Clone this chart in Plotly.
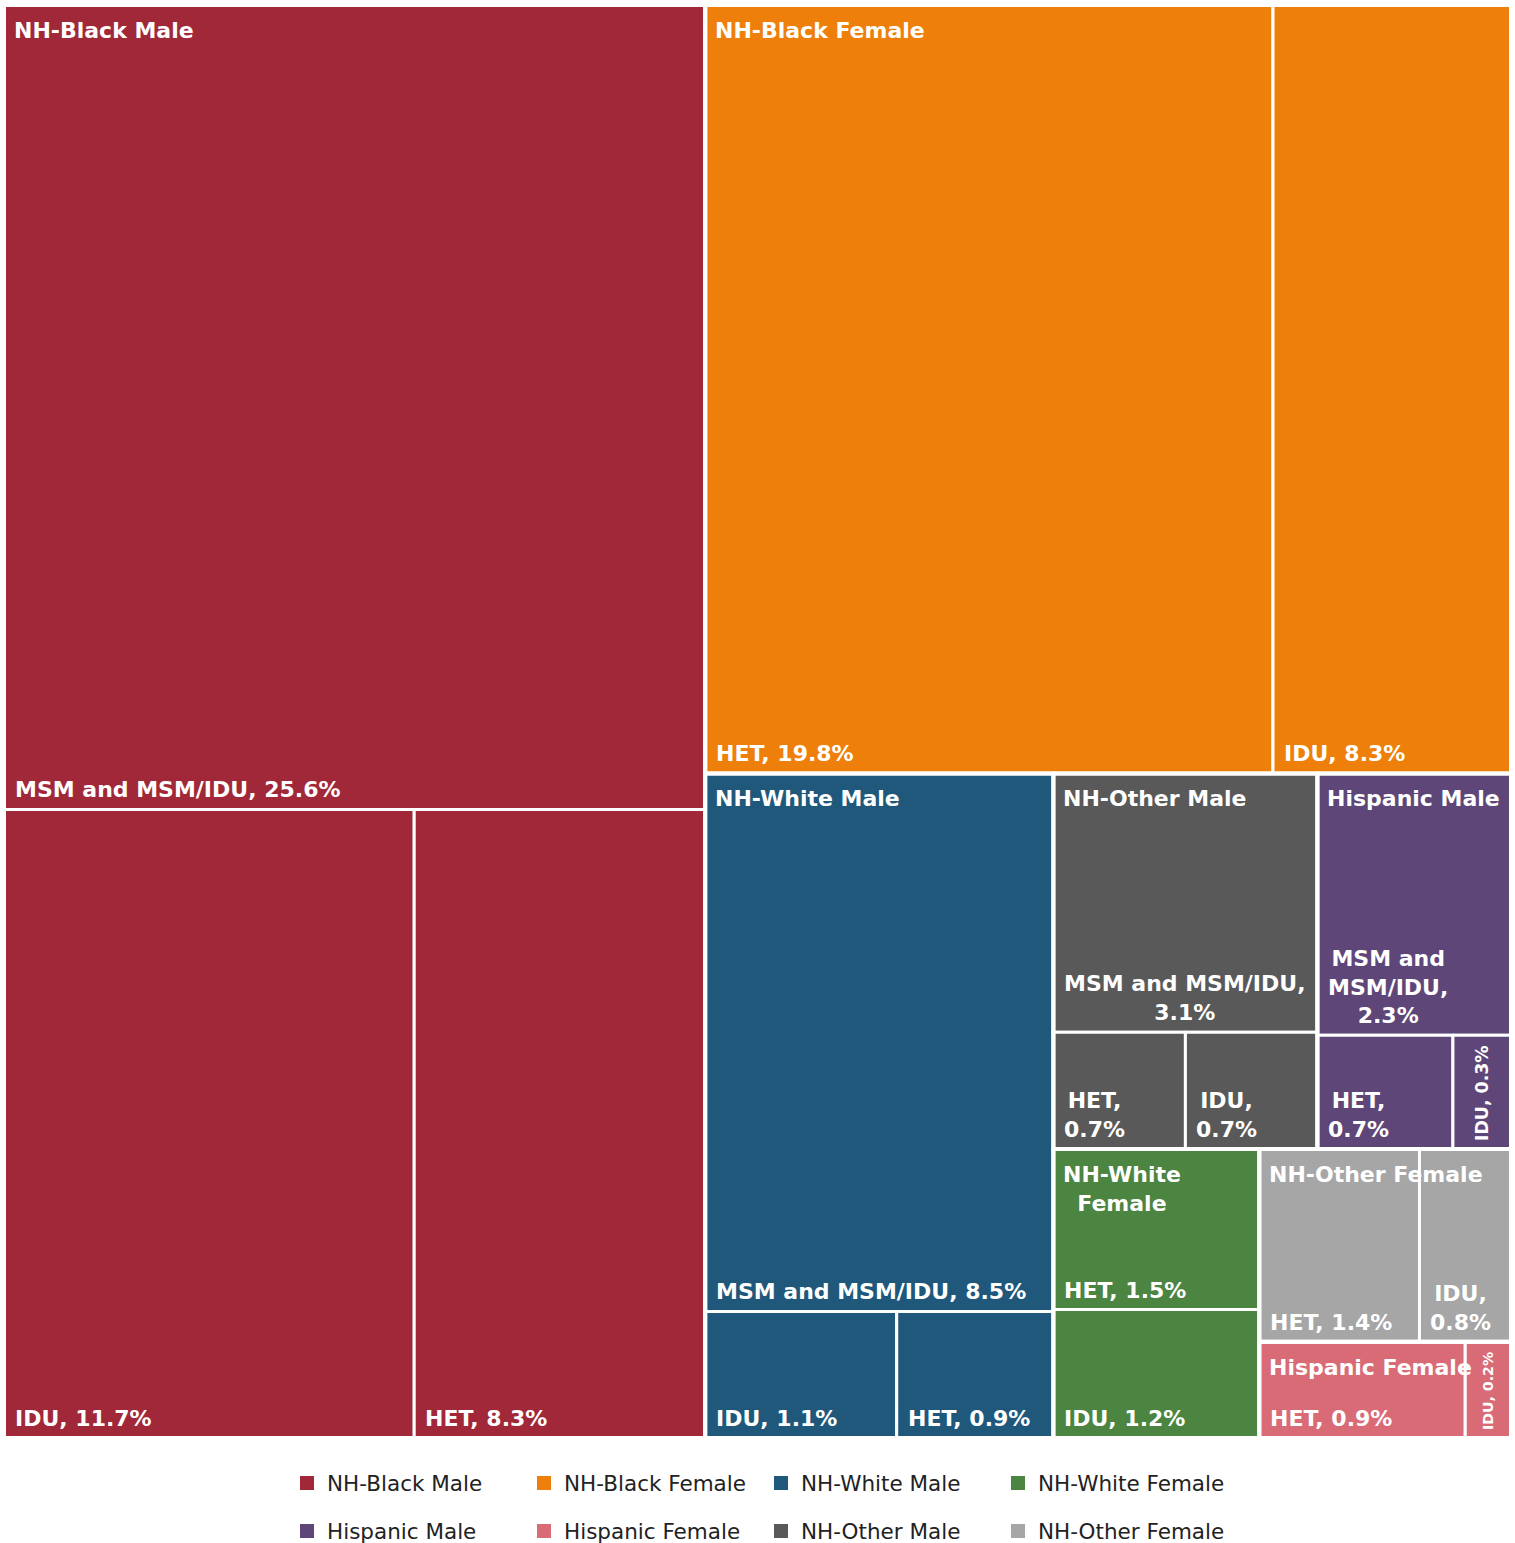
import plotly.graph_objects as go

# ---------------- data ----------------
groups = ["NH-Black Male", "NH-Black Female", "NH-White Male", "NH-Other Male",
          "Hispanic Male", "NH-White Female", "NH-Other Female", "Hispanic Female"]
group_colors = ["#A12838", "#EF7F0B", "#1F587B", "#595959",
                "#5E4778", "#4C8441", "#A6A6A6", "#D96B76"]

leaf_group = ["NH-Black Male", "NH-Black Male", "NH-Black Male",
              "NH-Black Female", "NH-Black Female",
              "NH-White Male", "NH-White Male", "NH-White Male",
              "NH-Other Male", "NH-Other Male", "NH-Other Male",
              "Hispanic Male", "Hispanic Male", "Hispanic Male",
              "NH-White Female", "NH-White Female",
              "NH-Other Female", "NH-Other Female",
              "Hispanic Female", "Hispanic Female"]
leaf_names = ["MSM and MSM/IDU", "IDU", "HET",
              "HET", "IDU",
              "MSM and MSM/IDU", "IDU", "HET",
              "MSM and MSM/IDU", "HET", "IDU",
              "MSM and MSM/IDU", "HET", "IDU",
              "HET", "IDU",
              "HET", "IDU",
              "HET", "IDU"]
leaf_values = [25.6, 11.7, 8.3,
               19.8, 8.3,
               8.5, 1.1, 0.9,
               3.1, 0.7, 0.7,
               2.3, 0.7, 0.3,
               1.5, 1.2,
               1.4, 0.8,
               0.9, 0.2]

legend_rows = [["NH-Black Male", "NH-Black Female", "NH-White Male", "NH-White Female"],
               ["Hispanic Male", "Hispanic Female", "NH-Other Male", "NH-Other Female"]]

# ---------------- layout geometry ----------------
FIG_W, FIG_H = 1515, 1543
M_L, M_R, M_T, M_B = 4, 4, 5, 105
W = FIG_W - M_L - M_R
H = FIG_H - M_T - M_B
FONT = "Verdana, DejaVu Sans, sans-serif"
LABEL_SIZE = 22
WRAP_SIZE = 21


def squarify(values, x0, y0, x1, y1, ratio=1.0):
    """d3-hierarchy squarified treemap tiling (screen coords, y down)."""
    rects = [None] * len(values)
    order = sorted(range(len(values)), key=lambda i: -values[i])
    n = len(order)
    i0 = i1 = 0
    value = float(sum(values))
    while i0 < n:
        dx, dy = x1 - x0, y1 - y0
        s = values[order[i1]]
        i1 += 1
        mn = mx = s
        alpha = max(dy / dx, dx / dy) / (value * ratio)
        beta = s * s * alpha
        min_ratio = max(mx / beta, beta / mn)
        while i1 < n:
            v = values[order[i1]]
            s2 = s + v
            mn2, mx2 = min(mn, v), max(mx, v)
            beta = s2 * s2 * alpha
            nr = max(mx2 / beta, beta / mn2)
            if nr > min_ratio:
                break
            s, mn, mx, min_ratio = s2, mn2, mx2, nr
            i1 += 1
        row = order[i0:i1]
        if dx < dy:
            ny = y0 + dy * s / value
            cx = x0
            for k in row:
                w = (x1 - x0) * values[k] / s
                rects[k] = (cx, y0, cx + w, ny)
                cx += w
            y0 = ny
        else:
            nx = x0 + dx * s / value
            cy = y0
            for k in row:
                h = (y1 - y0) * values[k] / s
                rects[k] = (x0, cy, nx, cy + h)
                cy += h
            x0 = nx
        value -= s
        i0 = i1
    return rects


CW = {' ': .348, '%': 1.002, ',': .381, '-': .416, '.': .381, '/': .365,
      'B': .762, 'D': .828, 'E': .683, 'F': .683, 'H': .836, 'I': .370,
      'M': .996, 'N': .836, 'O': .850, 'S': .722, 'T': .687, 'U': .812,
      'W': 1.102, 'a': .675, 'c': .593, 'd': .716, 'e': .678, 'h': .713,
      'i': .343, 'k': .666, 'l': .343, 'm': 1.042, 'n': .713, 'p': .716,
      'r': .493, 's': .595, 't': .478}


def text_w(s, size):
    return sum(CW.get(c, .696) for c in s) * size


def wrap(s, size, maxw):
    lines, cur = [], ""
    for w in s.split(" "):
        t = (cur + " " + w) if cur else w
        if not cur or text_w(t, size) <= maxw:
            cur = t
        else:
            lines.append(cur)
            cur = w
    lines.append(cur)
    return lines


group_values = [sum(v for g, v in zip(leaf_group, leaf_values) if g == grp) for grp in groups]
group_rects = squarify(group_values, 0, 0, W, H)
color_of = dict(zip(groups, group_colors))

fig = go.Figure()
annotations = []
PAD = 10

leaf_rects = [None] * len(leaf_values)
for gi, grp in enumerate(groups):
    idx = [i for i, g in enumerate(leaf_group) if g == grp]
    gx0, gy0, gx1, gy1 = group_rects[gi]
    sub = squarify([leaf_values[i] for i in idx], gx0, gy0, gx1, gy1)
    for i, r in zip(idx, sub):
        leaf_rects[i] = r

# leaves
for i, (x0, y0, x1, y1) in enumerate(leaf_rects):
    grp = leaf_group[i]
    fig.add_trace(go.Scatter(
        x=[x0, x1, x1, x0, x0], y=[y0, y0, y1, y1, y0],
        mode="lines", fill="toself", fillcolor=color_of[grp],
        line=dict(color="white", width=3), showlegend=False,
        hoveron="fills", name=grp,
        text=f"{grp}<br>{leaf_names[i]}: {leaf_values[i]}%", hoverinfo="text"))

    label = f"{leaf_names[i]}, {leaf_values[i]}%"
    cw, ch = x1 - x0, y1 - y0
    maxw = cw - 2 * PAD
    longest = max(text_w(w, WRAP_SIZE) for w in label.split(" "))
    if longest > maxw:
        size = min(LABEL_SIZE, (ch - 18) / (text_w(label, 1)))
        annotations.append(dict(
            x=(x0 + x1) / 2, y=y1 - 6, xref="x", yref="y", text=label,
            showarrow=False, textangle=-90, xanchor="center", yanchor="bottom",
            font=dict(family=FONT, size=size, color="white", weight="bold")))
    else:
        lines = wrap(label, WRAP_SIZE, maxw)
        annotations.append(dict(
            x=x0 + 9, y=y1 - 5, xref="x", yref="y", text="<br>".join(lines),
            showarrow=False, xanchor="left", yanchor="bottom", align="center",
            font=dict(family=FONT, size=LABEL_SIZE, color="white", weight="bold")))

# group outlines and labels
for gi, grp in enumerate(groups):
    x0, y0, x1, y1 = group_rects[gi]
    fig.add_trace(go.Scatter(
        x=[x0, x1, x1, x0, x0], y=[y0, y0, y1, y1, y0], mode="lines",
        line=dict(color="white", width=4), showlegend=False, hoverinfo="skip"))
    lines = wrap(grp, WRAP_SIZE, (x1 - x0) - 2 * PAD)
    annotations.append(dict(
        x=x0 + 8, y=y0 + 11, xref="x", yref="y", text="<br>".join(lines),
        showarrow=False, xanchor="left", yanchor="top", align="center",
        font=dict(family=FONT, size=LABEL_SIZE, color="white", weight="bold")))

# legend entries
for r, row in enumerate(legend_rows):
    for grp in row:
        fig.add_trace(go.Scatter(
            x=[None], y=[None], mode="markers", name=grp,
            marker=dict(symbol="square", size=14, color=color_of[grp]),
            legend="legend" if r == 0 else "legend2"))

leg_common = dict(orientation="h", xanchor="left", yanchor="middle",
                  entrywidth=192, entrywidthmode="pixels",
                  font=dict(family=FONT, size=21.5, color="#222222"),
                  bgcolor="rgba(0,0,0,0)", itemclick=False, itemdoubleclick=False)
leg_x = (287 - M_L) / W
fig.update_layout(
    legend=dict(x=leg_x, y=-(1483 - (M_T + H)) / H, **leg_common),
    legend2=dict(x=leg_x, y=-(1531 - (M_T + H)) / H, **leg_common),
)

fig.update_layout(
    width=FIG_W, height=FIG_H,
    margin=dict(l=M_L, r=M_R, t=M_T, b=M_B, autoexpand=False),
    paper_bgcolor="white", plot_bgcolor="white",
    xaxis=dict(range=[0, W], visible=False, fixedrange=True),
    yaxis=dict(range=[H, 0], visible=False, fixedrange=True),
    annotations=annotations,
    hovermode="closest",
)

fig.write_html("out.html", config={"displayModeBar": False},
               post_script="document.body.style.margin='0';document.body.style.overflow='hidden';")
